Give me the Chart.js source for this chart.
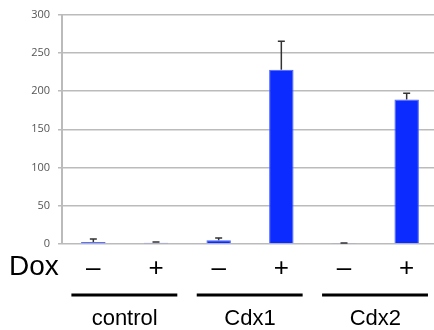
<!DOCTYPE html>
<html lang="en">
<head>
  <meta charset="UTF-8" />
  <title>Dox induction</title>
  <style>
    body { margin: 0; background: #fff; overflow: hidden; }
    #chart { display: block; }
  </style>
</head>
<body>
  <canvas id="chart" width="438" height="330"></canvas>

  <script src="https://cdn.jsdelivr.net/npm/chart.js"></script>
  <script>
    // Dox -/+ for each construct
    const categories = ['–', '+', '–', '+', '–', '+'];
    const values = [2.5, 1.5, 5, 228, 0.8, 189];
    const errors = [4, 1, 3, 37, 0.4, 8];
    const groups = ['control', 'Cdx1', 'Cdx2'];
    const yMax = 300;
    const yStep = 50;

    const extras = {
      id: 'extras',
      afterDatasetsDraw(chart) {
        const ctx = chart.ctx;
        const x = chart.scales.x;
        const y = chart.scales.y;

        // error bars (upper only)
        ctx.save();
        ctx.strokeStyle = '#333';
        ctx.lineWidth = 1.5;
        values.forEach((v, i) => {
          const cx = x.getPixelForValue(i);
          const top = y.getPixelForValue(v);
          const tip = y.getPixelForValue(v + errors[i]);
          ctx.beginPath();
          ctx.moveTo(cx, top);
          ctx.lineTo(cx, tip);
          ctx.moveTo(cx - 3.5, tip);
          ctx.lineTo(cx + 3.5, tip);
          ctx.stroke();
        });
        ctx.restore();
      },
      afterDraw(chart) {
        const ctx = chart.ctx;
        const x = chart.scales.x;
        const w = x.getPixelForValue(1) - x.getPixelForValue(0);

        ctx.save();
        ctx.fillStyle = '#000';
        ctx.strokeStyle = '#000';

        // "Dox" label
        ctx.font = '28px "Liberation Sans", Arial, sans-serif';
        ctx.textBaseline = 'middle';
        ctx.textAlign = 'left';
        ctx.fillText('Dox', 9, 267);

        // group underlines and names
        ctx.lineWidth = 3;
        ctx.font = '22px "Liberation Sans", Arial, sans-serif';
        ctx.textAlign = 'center';
        ctx.textBaseline = 'alphabetic';
        groups.forEach((g, k) => {
          const x0 = x.getPixelForValue(k * 2);
          const x1 = x.getPixelForValue(k * 2 + 1);
          ctx.beginPath();
          ctx.moveTo(x0 - 0.35 * w, 295);
          ctx.lineTo(x1 + 0.34 * w, 295);
          ctx.stroke();
          ctx.fillText(g, (x0 + x1) / 2, 325);
        });
        ctx.restore();
      }
    };

    new Chart(document.getElementById('chart'), {
      type: 'bar',
      data: {
        labels: categories,
        datasets: [{
          data: values,
          backgroundColor: '#0c2cff',
          borderColor: '#4a62ff',
          borderWidth: 1,
          barPercentage: 0.39,
          categoryPercentage: 1.0
        }]
      },
      options: {
        responsive: false,
        animation: false,
        layout: { padding: { top: 9, right: 0, left: 0, bottom: 0 } },
        plugins: {
          legend: { display: false },
          tooltip: { enabled: false }
        },
        scales: {
          x: {
            grid: { display: false },
            border: { display: false },
            ticks: {
              color: '#000',
              padding: 1,
              font: { family: '"Liberation Sans", Arial, sans-serif', size: 26 }
            },
            afterFit(scale) { scale.height = 86; }
          },
          y: {
            min: 0,
            max: yMax,
            ticks: {
              stepSize: yStep,
              color: '#555',
              padding: 8,
              font: { family: '"Open Sans", sans-serif', size: 11 }
            },
            grid: { color: '#bbb', lineWidth: 1.5, tickLength: 4 },
            border: { color: '#bbb', width: 2 },
            afterFit(scale) { scale.width = 62; }
          }
        }
      },
      plugins: [extras]
    });
  </script>
</body>
</html>
